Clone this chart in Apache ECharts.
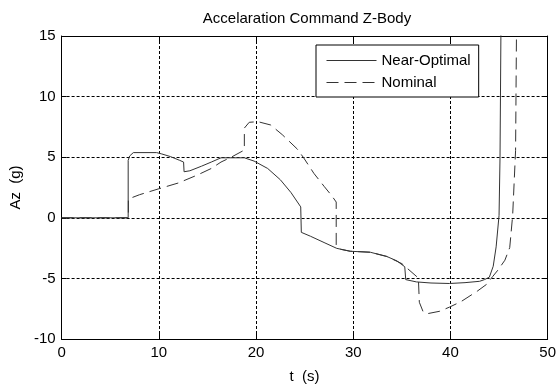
<!DOCTYPE html>
<html>
<head>
<meta charset="utf-8">
<script src="https://cdn.jsdelivr.net/npm/echarts@6/dist/echarts.min.js"></script>
<style>html,body{margin:0;padding:0;background:#fff}#c{width:559px;height:389px}</style>
</head>
<body>
<div id="c"></div>
<script>
var titleText = 'Accelaration Command Z-Body';
var xName = 't  (s)';
var yName = 'Az  (g)';
var seriesNames = ['Near-Optimal', 'Nominal'];
var xTicks = [0, 10, 20, 30, 40, 50];
var yTicks = [-10, -5, 0, 5, 10, 15];

var tNear = [0, 6.85, 6.85, 7.0, 7.38, 9.77, 10.3, 11.2, 12.15, 12.55, 12.6, 13.2, 14.4, 15.4, 16.4, 16.6, 18.8, 19.8, 21.2, 22.5, 23.6, 24.6, 24.66, 25.6, 27.0, 28.3, 29.7, 31.75, 33.45, 34.5, 35.3, 35.4, 35.4, 36.5, 38.0, 39.9, 41.5, 43.0, 43.5, 44.0, 44.4, 44.7, 45.0, 45.1, 45.2];
var aNear = [0, 0, 4.74, 5.1, 5.38, 5.38, 5.27, 5.05, 4.74, 4.6, 3.8, 3.88, 4.26, 4.6, 4.95, 5.0, 4.95, 4.68, 4.07, 3.14, 2.08, 0.9, -1.2, -1.52, -2.04, -2.52, -2.76, -2.84, -3.19, -3.56, -4.04, -4.1, -5.1, -5.29, -5.38, -5.42, -5.35, -5.24, -5.1, -4.9, -4.0, -2.4, 0.2, 5.0, 16];

var tNom = [0, 6.87, 6.87, 8.0, 9.94, 12.0, 14.0, 15.4, 16.4, 17.4, 18.8, 18.8, 19.3, 20.2, 21.5, 22.7, 24.25, 24.9, 25.95, 27.0, 27.8, 28.25, 28.25, 28.7, 29.7, 31.75, 33.45, 35.0, 36.7, 36.8, 37.2, 37.7, 38.9, 39.9, 41.1, 42.8, 43.7, 44.35, 44.9, 45.6, 46.1, 46.4, 46.7, 46.8];
var aNom = [0, 0, 1.55, 1.9, 2.38, 2.87, 3.54, 4.07, 4.6, 4.98, 5.59, 7.4, 7.88, 7.93, 7.66, 6.86, 5.67, 4.95, 3.67, 2.6, 1.81, 1.3, -2.3, -2.6, -2.76, -2.84, -3.19, -3.78, -4.97, -6.97, -7.77, -7.9, -7.71, -7.37, -6.91, -6.03, -5.5, -4.84, -4.3, -3.5, -2.45, 0.2, 5.54, 16];

function pairs(xs, ys) { return xs.map(function (x, i) { return [x, ys[i]]; }); }

var FONT = 'Liberation Sans, Arial, sans-serif';
var chart = echarts.init(document.getElementById('c'), null, { renderer: 'canvas' });

var baseAxis = {
  type: 'value',
  interval: 10,
  axisLine: { show: true, onZero: false, lineStyle: { color: '#000', width: 1 } },
  axisTick: { show: true, inside: true, length: 5, lineStyle: { color: '#000' } },
  splitLine: { show: false }
};

chart.setOption({
  animation: false,
  backgroundColor: '#fff',
  title: {
    text: titleText,
    left: 302, top: 6, textAlign: 'center',
    textStyle: { fontFamily: FONT, fontSize: 15, fontWeight: 'normal', color: '#000' }
  },
  legend: {
    orient: 'vertical',
    left: 316, top: 45,
    padding: [8, 8, 7, 10],
    itemWidth: 50, itemHeight: 14, itemGap: 7,
    backgroundColor: '#fff',
    borderColor: '#000', borderWidth: 1, borderRadius: 0,
    itemStyle: { opacity: 0 },
    lineStyle: { width: 1 },
    textStyle: { fontFamily: FONT, fontSize: 15, color: '#000' },
    data: seriesNames
  },
  grid: { left: 59, top: 36, width: 490, height: 313, containLabel: false },
  xAxis: [
    Object.assign({}, baseAxis, {
      min: xTicks[0], max: xTicks[xTicks.length - 1],
      position: 'bottom',
      name: xName, nameLocation: 'middle', nameGap: 30,
      nameTextStyle: { fontFamily: FONT, fontSize: 15, color: '#000' },
      axisLabel: { fontFamily: FONT, fontSize: 15, color: '#000', margin: 6 },
      splitLine: { show: true, lineStyle: { color: '#000', type: [3, 2], width: 1 } }
    }),
    Object.assign({}, baseAxis, {
      min: xTicks[0], max: xTicks[xTicks.length - 1],
      position: 'top',
      axisLabel: { show: false }
    })
  ],
  yAxis: [
    Object.assign({}, baseAxis, {
      min: yTicks[0], max: yTicks[yTicks.length - 1], interval: 5,
      position: 'left',
      name: yName, nameLocation: 'middle', nameGap: 30, nameRotate: 90,
      nameTextStyle: { fontFamily: FONT, fontSize: 15, color: '#000' },
      axisLabel: { fontFamily: FONT, fontSize: 15, color: '#000', margin: 6 },
      splitLine: { show: true, lineStyle: { color: '#000', type: [3, 2], width: 1 } }
    }),
    Object.assign({}, baseAxis, {
      min: yTicks[0], max: yTicks[yTicks.length - 1], interval: 5,
      position: 'right',
      axisLabel: { show: false }
    })
  ],
  series: [
    {
      name: seriesNames[0], type: 'line', data: pairs(tNear, aNear),
      showSymbol: false, symbol: 'none', clip: true, z: 3,
      lineStyle: { color: '#333', width: 1, type: 'solid' },
      itemStyle: { color: '#333' }
    },
    {
      name: seriesNames[1], type: 'line', data: pairs(tNom, aNom),
      showSymbol: false, symbol: 'none', clip: true, z: 2,
      lineStyle: { color: '#333', width: 1, type: [12, 6] },
      itemStyle: { color: '#333' }
    }
  ]
});
</script>
</body>
</html>
